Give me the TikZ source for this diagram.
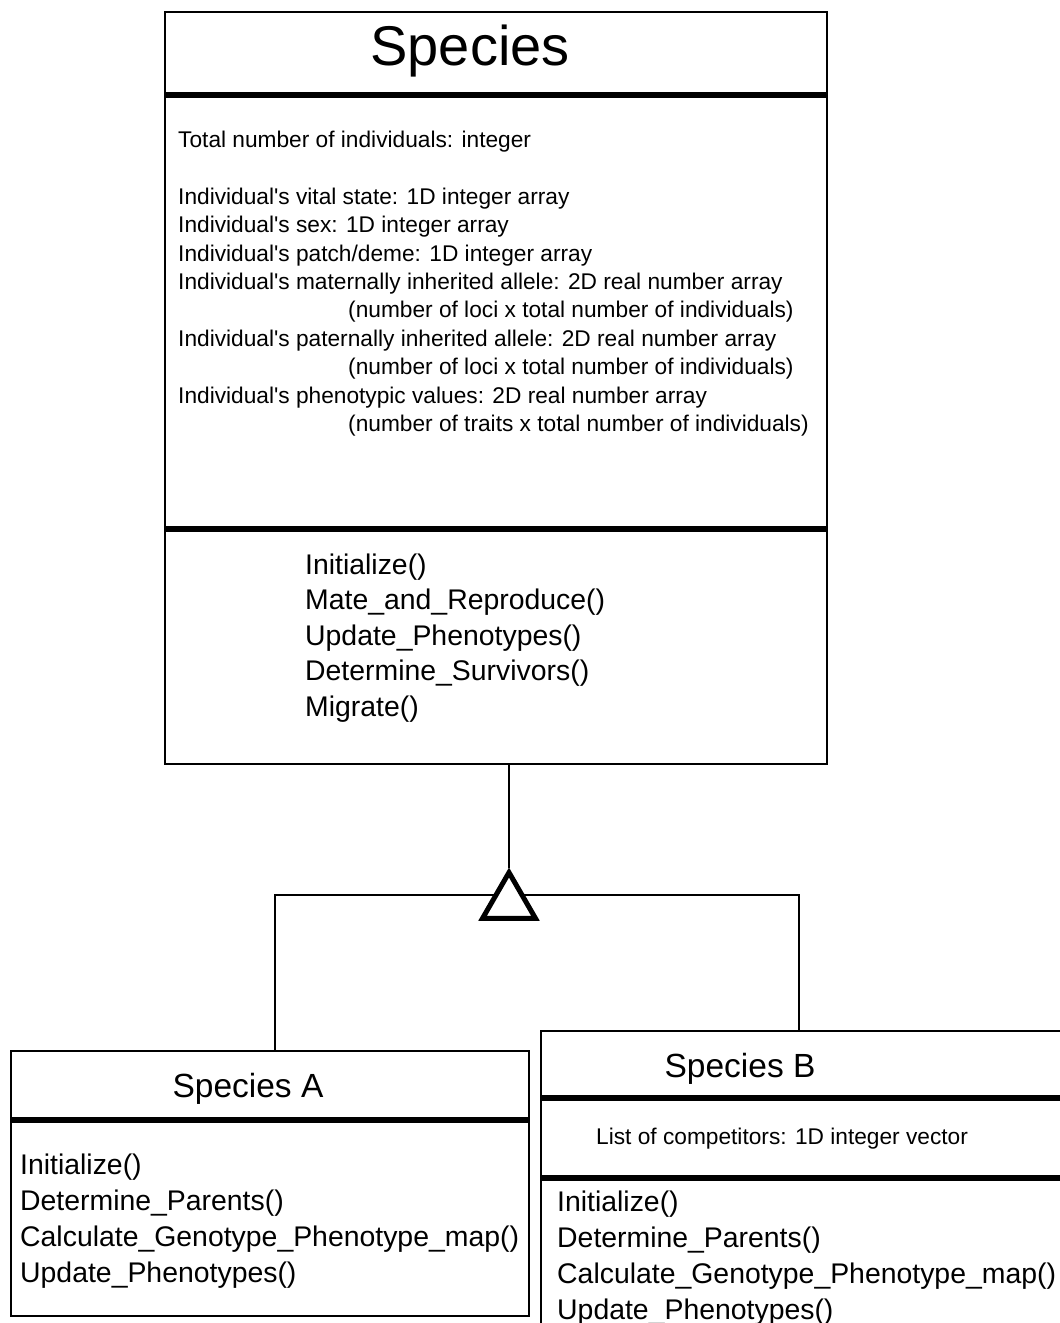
\documentclass[tikz,border=0pt]{standalone}
\usepackage{fontspec}
\setmainfont{Liberation Sans}
\usetikzlibrary{shapes.geometric}

\tikzset{
  classbox/.style={draw=black, line width=1.5pt, rectangle, inner sep=0pt},
  sepline/.style={line width=6pt},
  link/.style={line width=1.5pt},
  title/.style={anchor=base, inner sep=0pt, font=\fontsize{33.5}{40}\selectfont},
  attr/.style={anchor=base west, inner sep=0pt, font=\fontsize{22.7}{28}\selectfont},
  meth/.style={anchor=base west, inner sep=0pt, font=\fontsize{28.4}{35}\selectfont}
}

\begin{document}
\begin{tikzpicture}[x=1pt,y=-1pt]
\useasboundingbox (0,0) rectangle (1060,1323);

% class boxes
\node[classbox, minimum width=662, minimum height=752] (Species) at (496,388) {};
\node[classbox, minimum width=518, minimum height=265] (SpeciesA) at (270,1183.5) {};
\node[classbox, minimum width=530, minimum height=304] (SpeciesB) at (806,1183) {};

% compartments
\draw[sepline] (Species.west |- 0,95) -- (Species.east |- 0,95);
\draw[sepline] (Species.west |- 0,529) -- (Species.east |- 0,529);
\draw[sepline] (SpeciesA.west |- 0,1120) -- (SpeciesA.east |- 0,1120);
\draw[sepline] (SpeciesB.west |- 0,1098) -- (SpeciesB.east |- 0,1098);
\draw[sepline] (SpeciesB.west |- 0,1178) -- (SpeciesB.east |- 0,1178);

% titles
\node[title, font=\fontsize{56}{64}\selectfont] (tSpecies) at (470,65) {Species};
\node[title] (tSpeciesA) at (248,1097) {Species A};
\node[title] (tSpeciesB) at (740,1077) {Species B};

% attributes
\node[attr] (a1) at (178,147) {Total number of individuals: integer};
\node[attr] (a2) at (178,204) {Individual\textquotesingle s vital state: 1D integer array};
\node[attr] (a3) at (178,232) {Individual\textquotesingle s sex: 1D integer array};
\node[attr] (a4) at (178,261) {Individual\textquotesingle s patch/deme: 1D integer array};
\node[attr] (a5) at (178,289) {Individual\textquotesingle s maternally inherited allele: 2D real number array};
\node[attr] (a6) at (348,317) {(number of loci x total number of individuals)};
\node[attr] (a7) at (178,346) {Individual\textquotesingle s paternally inherited allele: 2D real number array};
\node[attr] (a8) at (348,374) {(number of loci x total number of individuals)};
\node[attr] (a9) at (178,403) {Individual\textquotesingle s phenotypic values: 2D real number array};
\node[attr] (a10) at (348,431) {(number of traits x total number of individuals)};
\node[attr] (b1) at (596,1144) {List of competitors: 1D integer vector};

% operations
\foreach \m [count=\i] in {Initialize(), Mate\_and\_Reproduce(), Update\_Phenotypes(),
    Determine\_Survivors(), Migrate()}
  \node[meth] (op\i) at (305,{574+35.5*(\i-1)}) {\m};
\foreach \m [count=\i] in {Initialize(), Determine\_Parents(),
    Calculate\_Genotype\_Phenotype\_map(), Update\_Phenotypes()} {
  \node[meth] (opA\i) at (20,{1174+36*(\i-1)}) {\m};
  \node[meth] (opB\i) at (557,{1211+36.3*(\i-1)}) {\m};
}

% generalisation
\coordinate (hubL) at (275,895);
\coordinate (hubR) at (799,895);
\draw[link] (SpeciesA.north -| hubL) -- (hubL) -- (hubR) -- (SpeciesB.north -| hubR);
\node[regular polygon, regular polygon sides=3, draw, line width=5pt, fill=white,
  minimum size=61, inner sep=0pt] (gen) at (509,903) {};
\draw[link] (gen.corner 1) -- (gen.corner 1 |- Species.south);
\end{tikzpicture}
\end{document}
